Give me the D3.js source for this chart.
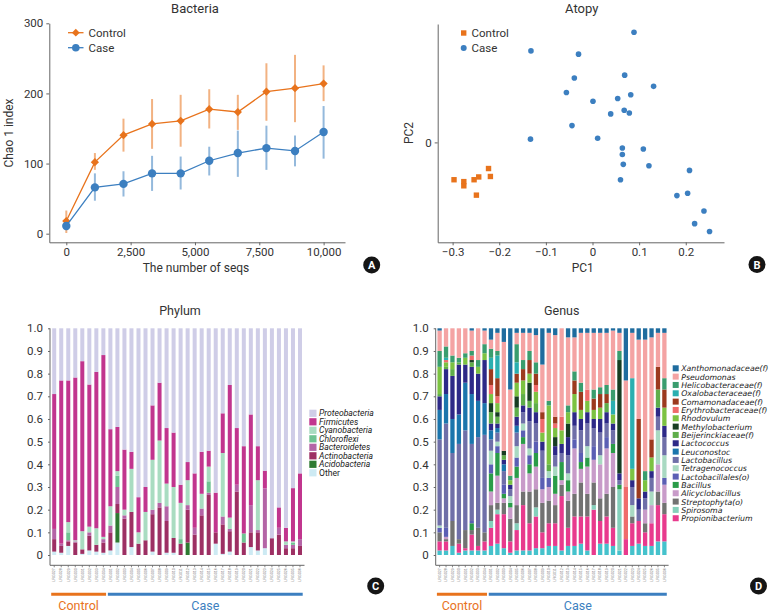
<!DOCTYPE html>
<html><head><meta charset="utf-8">
<script src="https://cdn.jsdelivr.net/npm/d3@7"></script>
<style>body{margin:0;background:#fff}svg{font-family:Roboto,"Noto Sans",sans-serif}</style>
</head><body><svg id="chart" width="772" height="612"></svg>
<script>
// ---------- Panel A data ----------
const seqDepth = [0,1111,2222,3333,4444,5555,6666,7777,8888,9999];
const controlChao = [18,102,140.5,156.5,161,177.5,173.5,202.5,207.5,214];
const controlLow  = [1,91,117,121,124,150,148,161,159,189];
const controlHigh = [33,115,164,192,198,206,198,243,255,240];
const caseChao = [11,66,71,86,86,104,115,122,118,145];
const caseLow  = [5,47,53,61,63,83,81,91,96,107];
const caseHigh = [16,86,89,111,110,124,147,154,140,182];
const seqTicks = [0,2500,5000,7500,10000];
const chaoTicks = [0,100,200,300];

// ---------- Panel B data ----------
const controlPC1 = [-0.297,-0.276,-0.276,-0.254,-0.244,-0.249,-0.223,-0.219];
const controlPC2 = [-0.080,-0.084,-0.093,-0.080,-0.074,-0.113,-0.056,-0.073];
const casePC1 = [0.089,-0.132,-0.030,-0.039,0.069,0.131,-0.056,0.082,0.054,0.001,0.068,0.039,0.079,-0.044,-0.133,0.011,0.064,0.109,0.064,0.066,0.121,0.208,0.060,0.181,0.204,0.239,0.219,0.251];
const casePC2 = [0.236,0.196,0.189,0.138,0.144,0.120,0.107,0.102,0.094,0.088,0.069,0.061,0.063,0.036,0.007,0.009,-0.012,-0.014,-0.026,-0.047,-0.050,-0.060,-0.080,-0.114,-0.109,-0.147,-0.174,-0.191];
const pc1Ticks = [-0.3,-0.2,-0.1,0,0.1,0.2];
const pc2Ticks = [0];

// ---------- Samples ----------
const sampleIds = ["LRG027","LRG028","LRG029","LRG030","LRG031","LRG032","LRG033","LRG034",
 "LRG001","LRG002","LRG003","LRG004","LRG005","LRG006","LRG007","LRG008","LRG009","LRG010",
 "LRG011","LRG012","LRG013","LRG014","LRG015","LRG016","LRG017","LRG018","LRG019","LRG020",
 "LRG021","LRG022","LRG023","LRG024","LRG025","LRG026","LRG035","LRG036"];
const groupNames = ["Control","Case"];
const groupSizes = [8,28];
const abundTicks = [0,0.1,0.2,0.3,0.4,0.5,0.6,0.7,0.8,0.9,1.0];

// ---------- Panel C data (phylum) ----------
const phylumNames = ["Proteobacteria","Firmicutes","Cyanobacteria","Chloroflexi","Bacteroidetes","Actinobacteria","Acidobacteria","Other"];
const phylumColors = ["#cfcde7","#c1358e","#a9dcc1","#6fc392","#b464a6","#9d2f63","#2e7a31","#cdeaf3"];
const proteobacteria = [.29,.23,.23,.217,.145,.248,.192,.118, .445,.435,.535,.545,.745,.7,.34,.24,.44,.46,.69,.59,.64,.545,.54,.725,.375,.25,.44,.52,.38,.52,.628,.926,.79,.88,.705,.64];
const firmicutes = [.595,.72,.625,.718,.75,.627,.69,.802, .34,.195,.265,.075,.155,.11,.24,.255,.245,.24,.08,.08,.24,.185,.07,.175,.175,.585,.25,.385,.4,.15,.078,0,.09,.06,.235,.29];
const cyanobacteria = [0,0,.045,.005,.08,.025,.073,.01, .085,.02,.025,.19,.05,.125,.22,.275,.1,.225,.16,.11,0,.065,.065,0,.28,.05,0,0,0,.22,0,0,0,.015,.005,0];
const chloroflexi = [0,0,.035,0,0,0,0,0, 0,.05,0,0,0,0,0,0,0,0,.02,0,0,0,.05,0,0,0,0,.04,0,0,0,0,0,0,.01,0];
const bacteroidetes = [.045,.01,.005,.005,0,.015,0,.015, .03,.075,.015,0,0,0,.02,.02,.065,0,0,.02,.03,.03,.01,0,.035,.01,.03,0,.12,.01,.264,0,.03,.015,.015,.03];
const actinobacteria = [.055,.03,.02,.055,.02,.065,.03,.045, .08,.04,.16,.155,.05,.065,.165,.21,.14,.065,.05,.145,.09,.175,.265,.05,.13,.09,.28,.055,.065,.08,0,.074,.09,.03,.03,.04];
const acidobacteria = [0,0,0,0,0,0,0,0, 0,.13,0,0,0,0,0,0,0,0,0,.055,0,0,0,0,0,0,0,0,0,0,0,0,0,0,0,0];
const otherPhylum = [.015,.01,.04,0,.005,.02,.015,.01, .02,.055,0,.035,0,0,.015,0,.01,.01,0,0,0,0,0,.05,.005,.015,0,0,.035,.02,.03,0,0,0,0,0];
const phylumSeries = [proteobacteria,firmicutes,cyanobacteria,chloroflexi,bacteroidetes,actinobacteria,acidobacteria,otherPhylum];

// ---------- Panel D data (genus) ----------
const genusNames = ["Xanthomonadaceae(f)","Pseudomonas","Helicobacteraceae(f)","Oxalobacteraceae(f)","Comamonadaceae(f)","Erythrobacteraceae(f)","Rhodovulum","Methylobacterium","Beijerinckiaceae(f)","Lactococcus","Leuconostoc","Lactobacillus","Tetragenococcus","Lactobacillales(o)","Bacillus","Alicyclobacillus","Streptophyta(o)","Spirosoma","Propionibacterium","Others"];
const genusColors = ["#1f6c9e","#f4a3a3","#3a9d6e","#2aafb0","#9c3a1e","#ef6b6b","#7cc242","#173d22","#5fae4a","#2d2987","#1b75ac","#6f6fa8","#a9d9c2","#5b5fb4","#2a9c48","#c89bc9","#727272","#85d0bb","#e83a8d","#45c2cc"];
const xanthomonadaceae = [.01,0,0,0,0,.01,0,.01, .05,.02,.06,.27,.02,.02,.02,.03,.16,.02,.03,0,.04,.04,.02,.02,.02,.02,.02,.01,.02,.23,.02,.05,.05,.04,.02,.02];
const pseudomonas = [.09,.08,.12,.13,.11,.09,.14,.06, .04,.08,.48,.38,.05,.12,.08,.12,.21,.3,.36,.39,.3,.15,.22,.25,.25,.24,.23,.26,.08,.47,.2,.35,.58,.45,.15,.2];
const helicobacteraceae = [.07,.05,.03,.02,.02,.02,.03,.04, .04,.02,0,.02,.08,.04,.04,.05,0,.02,0,0,.03,.04,.04,0,.04,.03,.04,.05,.04,0,0,0,.04,0,0,.05];
const oxalobacteraceae = [0,.01,0,0,0,0,0,0, .05,.1,0,0,.05,0,0,0,0,0,0,0,0,0,0,0,0,0,0,.06,0,0,.4,0,0,0,0,0];
const comamonadaceae = [0,0,0,0,0,0,0,0, .07,.08,0,0,.04,.05,.06,.05,.03,0,.03,0,0,.06,.08,0,.05,.06,.04,0,0,0,0,.35,0,.08,.1,.08];
const erythrobacteraceae = [0,.01,0,0,0,.02,0,0, .04,.03,0,0,0,0,0,.03,.06,0,.02,.06,0,0,0,.05,0,0,0,0,0,.23,0,0,0,0,0,0];
const rhodovulum = [.12,.02,.03,0,.03,0,.03,.03, .04,.04,0,.02,.06,.06,.04,.05,.04,.26,.04,.06,.05,.08,.04,.05,.04,.05,0,.04,0,0,.05,0,.05,.06,0,.08];
const methylobacterium = [0,0,0,0,0,.01,0,0, .04,.02,.02,0,.05,0,.08,0,0,0,.04,0,.06,0,0,0,0,0,0,0,.5,0,0,0,0,0,0,0];
const beijerinckiaceae = [.01,.01,.03,.01,0,.02,0,0, .05,.03,.02,0,.04,.05,.03,.04,0,.03,0,0,0,0,0,0,0,0,.04,0,0,0,0,0,0,0,.08,0];
const lactococcus = [.06,.11,.19,.22,.08,.12,.12,.19, .03,.02,.02,.02,.04,.03,.06,.05,.04,0,.04,.04,.08,.06,.05,.05,.04,.06,.05,.03,.03,0,.03,.05,.03,.03,.04,.05];
const leuconostoc = [.13,.13,.15,.13,.21,.22,.16,.14, .04,.02,.03,0,.03,0,0,0,0,0,0,0,0,0,0,0,0,0,0,0,0,0,0,0,0,0,0,0];
const lactobacillus = [.38,.46,.30,.42,.44,.34,.40,.43, .05,.04,.06,.03,.06,.05,.12,.08,.12,0,.05,.04,.08,.06,.1,.1,.08,.1,.06,.06,.02,0,.08,.05,.05,.06,.06,.08];
const tetragenococcus = [.01,0,0,0,0,0,0,0, .06,.02,0,.03,.05,.03,.03,0,0,.03,.04,0,.03,0,0,.05,0,.04,0,0,0,0,.05,0,0,.06,.15,.1];
const lactobacillales = [.02,.04,0,0,0,.01,0,0, .04,.03,.04,0,.04,.03,.04,.05,.05,.04,0,0,0,.04,.04,0,.06,0,.05,0,0,0,0,0,0,0,0,.03];
const bacillus = [0,0,0,0,0,.03,0,0, .08,.1,.02,.02,.05,.03,.04,.06,0,0,.08,.08,.05,0,.03,.04,0,0,0,.04,.02,0,0,0,0,0,0,0];
const alicyclobacillus = [0,.01,0,0,0,0,0,0, .06,.12,.02,.05,.12,.21,.08,.1,.06,.06,.05,.02,.04,.2,.06,.12,.1,.15,.2,.15,0,0,0,0,.06,.08,.12,.08];
const streptophyta = [.04,.01,.11,.02,.08,.02,.08,.04, .07,.03,.05,.1,.08,.06,.14,.08,.13,.1,.08,.05,.12,.1,.15,.1,.1,.1,.1,.18,0,0,.03,0,.04,0,.06,.05];
const spirosoma = [0,0,0,0,0,0,0,0, .03,.02,0,0,.03,0,0,.04,0,0,0,0,0,0,0,0,.02,0,0,0,.27,0,0,0,0,0,0,0];
const propionibacterium = [.04,.04,0,.04,.01,.07,.02,.04, .08,.13,.15,.05,.09,.2,.12,.14,.07,.1,.1,.24,.08,.13,.12,.15,.2,.1,.12,.08,0,.07,.1,.1,.06,.1,.16,.12];
const otherGenus = [.02,.02,.04,.01,.02,.02,.02,.02, .04,.05,.03,.01,.02,.02,.02,.03,.03,.04,.04,.02,.04,.04,.05,.02,0,.05,.05,.04,.02,0,.04,.05,.04,.04,.06,.06];
const genusSeries = [xanthomonadaceae,pseudomonas,helicobacteraceae,oxalobacteraceae,comamonadaceae,erythrobacteraceae,rhodovulum,methylobacterium,beijerinckiaceae,lactococcus,leuconostoc,lactobacillus,tetragenococcus,lactobacillales,bacillus,alicyclobacillus,streptophyta,spirosoma,propionibacterium,otherGenus];

const ORANGE = "#e8731c", BLUE = "#3c7fc0";
const svg = d3.select("#chart");

function styleAxis(g, fs){
  g.selectAll("path.domain").attr("stroke","#666").attr("stroke-width",1);
  g.selectAll(".tick line").attr("stroke","#666");
  g.selectAll(".tick text").attr("fill","#333").attr("font-size",fs).attr("font-family","Roboto, sans-serif");
}
function badge(x,y,t){
  svg.append("circle").attr("cx",x).attr("cy",y).attr("r",8.5).attr("fill","#151515");
  svg.append("text").attr("x",x).attr("y",y+4).attr("text-anchor","middle").attr("fill","#fff")
    .attr("font-size",11).attr("font-weight","bold").text(t);
}
function label(x,y,t,fs,opts={}){
  const el = svg.append("text").attr("x",x).attr("y",y).attr("text-anchor",opts.anchor||"middle")
    .attr("font-size",fs).attr("fill",opts.fill||"#333").text(t);
  if(opts.rotate) el.attr("transform",`rotate(-90,${x},${y})`);
  if(opts.italic) el.attr("font-style","italic");
  return el;
}

// ================= Panel A =================
(function(){
  const x = d3.scaleLinear().domain([-661,10831]).range([49.3,345]);
  const y = d3.scaleLinear().domain([-12.3,300]).range([242.3,23.3]);
  const gx = svg.append("g").attr("transform","translate(0,242.3)")
    .call(d3.axisBottom(x).tickValues(seqTicks).tickFormat(d3.format(",")).tickSize(3).tickSizeOuter(0));
  styleAxis(gx,11.5);
  const gy = svg.append("g").attr("transform","translate(49.3,0)")
    .call(d3.axisLeft(y).tickValues(chaoTicks).tickSize(3).tickSizeOuter(0));
  styleAxis(gy,11.5);
  label(195,13,"Bacteria",13);
  label(12.5,133,"Chao 1 index",12,{rotate:true});
  label(196,272,"The number of seqs",12);
  const series = [
    {v:controlChao,lo:controlLow,hi:controlHigh,c:ORANGE,sym:"diamond"},
    {v:caseChao,lo:caseLow,hi:caseHigh,c:BLUE,sym:"circle"}
  ];
  series.forEach(s=>{
    svg.append("g").selectAll("line").data(seqDepth).join("line")
      .attr("x1",d=>x(d)).attr("x2",d=>x(d))
      .attr("y1",(d,i)=>y(s.lo[i])).attr("y2",(d,i)=>y(s.hi[i]))
      .attr("stroke",s.c).attr("stroke-opacity",0.55).attr("stroke-width",2);
  });
  series.forEach(s=>{
    svg.append("path").datum(seqDepth).attr("fill","none").attr("stroke",s.c).attr("stroke-width",1.3)
      .attr("d",d3.line().x(d=>x(d)).y((d,i)=>y(s.v[i])));
    const g = svg.append("g");
    if(s.sym==="diamond"){
      g.selectAll("path").data(seqDepth).join("path")
        .attr("d",d3.symbol(d3.symbolSquare,34)())
        .attr("transform",(d,i)=>`translate(${x(d)},${y(s.v[i])}) rotate(45)`).attr("fill",s.c);
    } else {
      g.selectAll("circle").data(seqDepth).join("circle")
        .attr("cx",d=>x(d)).attr("cy",(d,i)=>y(s.v[i])).attr("r",4.2).attr("fill",s.c);
    }
  });
  [[ORANGE,"Control",32.7,"diamond"],[BLUE,"Case",47.7,"circle"]].forEach(([c,t,yy,sym])=>{
    svg.append("line").attr("x1",68).attr("x2",83.5).attr("y1",yy).attr("y2",yy).attr("stroke",c).attr("stroke-width",1.3);
    if(sym==="diamond") svg.append("path").attr("d",d3.symbol(d3.symbolSquare,30)()).attr("transform",`translate(75.8,${yy}) rotate(45)`).attr("fill",c);
    else svg.append("circle").attr("cx",75.8).attr("cy",yy).attr("r",3.8).attr("fill",c);
    label(88.5,yy+4,t,11.5,{anchor:"start"});
  });
  badge(371.7,265,"A");
})();

// ================= Panel B =================
(function(){
  const x = d3.scaleLinear().domain([-0.332,0.282]).range([437.7,724]);
  const y = d3.scaleLinear().domain([-0.214,0.2536]).range([242.3,24]);
  const fmt = d=> d===0 ? "0" : d3.format(".1f")(d);
  const gx = svg.append("g").attr("transform","translate(0,242.3)")
    .call(d3.axisBottom(x).tickValues(pc1Ticks).tickFormat(fmt).tickSize(3).tickSizeOuter(0));
  styleAxis(gx,11.5);
  const gy = svg.append("g").attr("transform","translate(437.7,0)")
    .call(d3.axisLeft(y).tickValues(pc2Ticks).tickFormat(fmt).tickSize(3).tickSizeOuter(0));
  styleAxis(gy,11.5);
  label(581.7,13,"Atopy",13);
  label(413,133,"PC2",12,{rotate:true});
  label(582.7,272,"PC1",12);
  svg.append("g").selectAll("circle").data(casePC1).join("circle")
    .attr("cx",d=>x(d)).attr("cy",(d,i)=>y(casePC2[i])).attr("r",2.8).attr("fill",BLUE);
  svg.append("g").selectAll("rect").data(controlPC1).join("rect")
    .attr("x",d=>x(d)-2.7).attr("y",(d,i)=>y(controlPC2[i])-2.7).attr("width",5.4).attr("height",5.4).attr("fill",ORANGE);
  svg.append("rect").attr("x",461).attr("y",30.3).attr("width",5.4).attr("height",5.4).attr("fill",ORANGE);
  svg.append("circle").attr("cx",463.7).attr("cy",48).attr("r",3).attr("fill",BLUE);
  label(471.5,37,"Control",11.5,{anchor:"start"});
  label(471.5,52,"Case",11.5,{anchor:"start"});
  badge(757,264.5,"B");
})();

// ================= Stacked panels =================
function stackedPanel(cfg){
  const x = d3.scaleBand().domain(sampleIds).range(cfg.xr).paddingInner(cfg.pad).paddingOuter(cfg.pad/2);
  const y = d3.scaleLinear().domain([0,1]).range([555,328.3]);
  const rows = sampleIds.map((s,i)=>{const r={sample:s}; cfg.names.forEach((n,j)=>r[n]=cfg.series[j][i]); return r;});
  const keys = cfg.names.slice().reverse();
  const stacked = d3.stack().keys(keys)(rows);
  const colorOf = n => cfg.colors[cfg.names.indexOf(n)];
  svg.append("g").selectAll("g").data(stacked).join("g").attr("fill",d=>colorOf(d.key))
    .selectAll("rect").data(d=>d).join("rect")
    .attr("x",d=>x(d.data.sample)).attr("width",x.bandwidth())
    .attr("y",d=>y(d[1])).attr("height",d=>Math.max(0,y(d[0])-y(d[1])));
  const gy = svg.append("g").attr("transform",`translate(${cfg.xr[0]-0.7},0)`)
    .call(d3.axisLeft(y).tickValues(abundTicks).tickFormat(d=>d===0?"0":d.toFixed(1)).tickSize(2).tickPadding(5).tickSizeOuter(0));
  gy.select("path.domain").remove();
  styleAxis(gy,11.5);
  svg.append("line").attr("x1",cfg.xr[0]-0.7).attr("x2",cfg.xr[0]-0.7).attr("y1",328.3).attr("y2",565.3).attr("stroke","#666");
  const gx = svg.append("g").attr("transform","translate(0,565.3)")
    .call(d3.axisBottom(x).tickSize(2).tickSizeOuter(0));
  gx.select("path.domain").remove();
  gx.selectAll(".tick line").attr("stroke","#888");
  gx.selectAll(".tick text").attr("font-size",3.6).attr("fill","#777")
    .attr("transform","rotate(-90)").attr("text-anchor","end").attr("dy","0.35em").attr("x",-3).attr("y",0);
  svg.append("line").attr("x1",cfg.xr[0]-0.7).attr("x2",cfg.xr[1]+1).attr("y1",565.3).attr("y2",565.3).attr("stroke","#666");
  label(cfg.titleX,315,cfg.title,12.5);
  let start = 0;
  groupNames.forEach((gname,gi)=>{
    const first = sampleIds[start], last = sampleIds[start+groupSizes[gi]-1];
    const x0 = x(first) - x.step()*x.paddingInner()/2 + (gi?1:0.5);
    const x1 = x(last) + x.bandwidth() + x.step()*x.paddingInner()/2 - 0.8;
    const c = gi===0?ORANGE:BLUE;
    svg.append("line").attr("x1",x0).attr("x2",x1).attr("y1",594.3).attr("y2",594.3).attr("stroke",c).attr("stroke-width",3);
    label((x0+x1)/2,609.5,gname,12.5,{fill:c});
    start += groupSizes[gi];
  });
  const lg = svg.append("g");
  cfg.names.forEach((n,i)=>{
    if(cfg.legendCount && i>=cfg.legendCount) return;
    const cy = cfg.lgY + i*cfg.lgStep;
    lg.append("rect").attr("x",cfg.lgX).attr("y",cy-cfg.sw/2).attr("width",cfg.sw).attr("height",cfg.sw).attr("fill",cfg.colors[i]);
    const t = lg.append("text").attr("x",cfg.lgX+cfg.sw+2.5).attr("y",cy+3).attr("font-size",cfg.lgFs)
      .attr("font-family",cfg.lgFont).attr("fill","#222").text(n);
    if(!(cfg.upright||[]).includes(n)) t.attr("font-style","italic");
  });
}

stackedPanel({xr:[50.7,303.5],pad:0.43,names:phylumNames,colors:phylumColors,series:phylumSeries,
  title:"Phylum",titleX:180,lgX:309.3,lgY:413.3,lgStep:8.5,sw:7.2,lgFs:8.6,lgFont:"Roboto, sans-serif",upright:["Other"]});
badge(375.7,586,"C");

stackedPanel({xr:[436.4,667.6],pad:0.33,names:genusNames,colors:genusColors,series:genusSeries,
  title:"Genus",titleX:561.7,lgX:672.7,lgY:368.3,lgStep:8.33,sw:6,lgFs:7.8,lgFont:"'DejaVu Sans', sans-serif",legendCount:19});
badge(758.5,586,"D");
</script></body></html>
